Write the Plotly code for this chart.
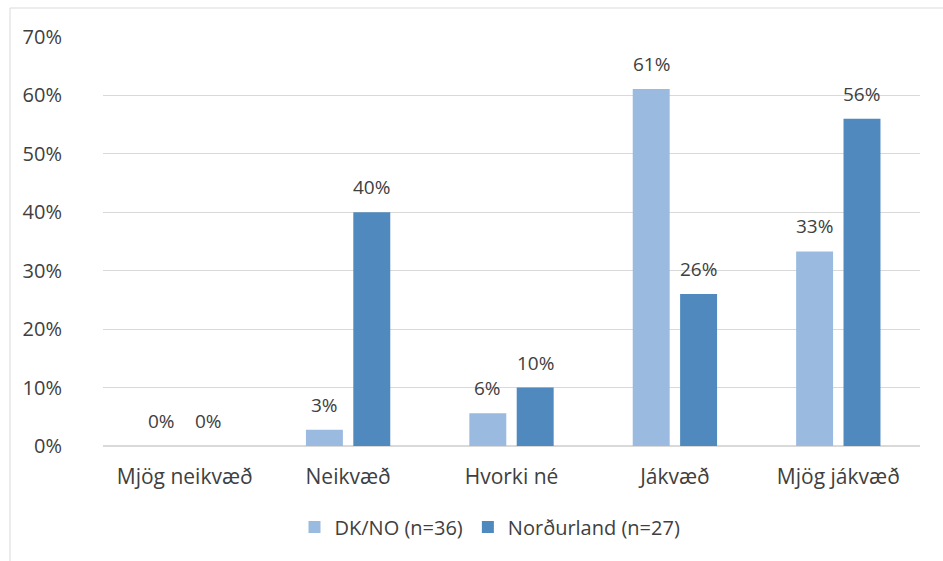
import plotly.graph_objects as go

categories = ["Mjög neikvæð", "Neikvæð", "Hvorki né", "Jákvæð", "Mjög jákvæð"]
series_names = ["DK/NO (n=36)", "Norðurland (n=27)"]
dk_no = [0, 2.8, 5.6, 61.1, 33.3]
nordurland = [0, 40, 10, 26, 56]
tick_vals = [0, 10, 20, 30, 40, 50, 60, 70]
tick_text = [f"{v}%" for v in tick_vals]

colors = ["#9bbae0", "#4f89bd"]
font_family = "'Open Sans', sans-serif"
text_color = "#404040"

L, R, T, B = 103, 23, 37, 115
W, H = 943, 561
pw, ph = W - L - R, H - T - B
cat_w = pw / len(categories)
bargap, bargroupgap = 0.42, 0.22
slot = cat_w * (1 - bargap) / 2

fig = go.Figure()
annotations = []
for i, (name, vals, col) in enumerate(zip(series_names, [dk_no, nordurland], colors)):
    fig.add_trace(go.Bar(
        x=categories, y=vals, name=name, marker=dict(color=col, line=dict(width=0)),
        cliponaxis=False,
    ))
    for c, v in zip(categories, vals):
        annotations.append(dict(
            x=c, y=v, xref="x", yref="y", text=f"{round(v):.0f}%", showarrow=False,
            xshift=(i - 0.5) * slot, yshift=25, yanchor="middle", xanchor="center",
            font=dict(size=19, color=text_color, family=font_family)))

fig.update_layout(
    width=W, height=H,
    margin=dict(l=L, r=R, t=T, b=B, pad=0),
    paper_bgcolor="white", plot_bgcolor="white",
    barmode="group", bargap=bargap, bargroupgap=bargroupgap,
    font=dict(family=font_family, color=text_color),
    showlegend=True,
    annotations=annotations,
    legend=dict(orientation="h", x=(490 - L) / pw, xanchor="center",
                y=(H - B - 527) / ph, yanchor="middle",
                font=dict(size=20, color=text_color, family=font_family),
                itemwidth=30, traceorder="normal"),
    xaxis=dict(showgrid=False, showline=False, ticks="", ticklabelstandoff=16,
               tickfont=dict(size=21, color=text_color, family=font_family)),
    yaxis=dict(range=[0, 70], tickvals=tick_vals, ticktext=tick_text,
               showgrid=True, gridcolor="#d9d9d9", gridwidth=1,
               zeroline=True, zerolinecolor="#d9d9d9", zerolinewidth=2,
               showline=False, ticks="", ticklabelstandoff=40,
               tickfont=dict(size=20, color=text_color, family=font_family)),
    shapes=[dict(type="rect", xref="paper", yref="paper",
                 x0=(10 - L) / pw, x1=(W + 20 - L) / pw,
                 y0=(H - B - (H + 20)) / ph, y1=(H - B - 8) / ph,
                 line=dict(color="#d9d9d9", width=1), fillcolor="rgba(0,0,0,0)",
                 layer="below")],
)

fig.write_html("out.html")
